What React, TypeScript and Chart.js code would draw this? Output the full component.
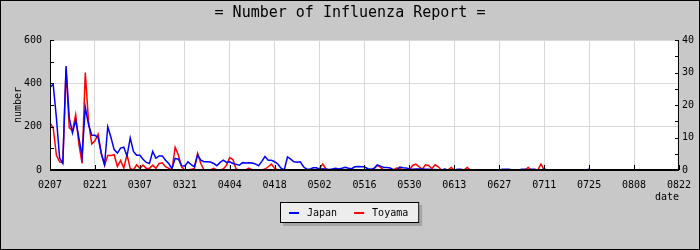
import React, { useEffect, useRef } from "react";
import { Chart, registerables } from "chart.js";

Chart.register(...registerables);

const tickLabels = ["0207", "0221", "0307", "0321", "0404", "0418", "0502", "0516", "0530", "0613", "0627", "0711", "0725", "0808", "0822"];
const seriesNames = ["Japan", "Toyama"];
const seriesColors = ["#0000ff", "#ff0000"];

// daily values starting 02/07 (Japan: left axis)
const japan = [
  382, 395, 240, 55, 30, 480, 240, 171, 230, 148,
  64, 290, 210, 160, 160, 150, 75, 25, 200, 150,
  94, 78, 101, 105, 64, 148, 86, 68, 68, 50,
  35, 30, 86, 55, 65, 65, 45, 30, 6, 54,
  50, 20, 18, 38, 25, 15, 70, 45, 38, 38,
  37, 30, 20, 35, 45, 35, 38, 30, 26, 22,
  34, 32, 33, 32, 28, 20, 40, 62, 45, 45,
  38, 28, 8, 0, 60, 50, 38, 36, 38, 15,
  4, 4, 10, 10, 4, 6, 4, 2, 5, 8,
  5, 8, 12, 8, 6, 15, 16, 15, 15, 6,
  3, 8, 24, 18, 12, 12, 9, 2, 0, 14,
  10, 9, 5, 4, 5, 5, 5, 4, 3, 2,
  2, 1, 0, 4, 0, 0, 0, 4, 4, 0,
  0, 0, 0, 0, 0, 0, 0, 0, 0, 0,
  0, 4, 4, 4, 0, 0, 0, 4, 4, 0,
  4, 4, 0, 0, 4, 0, 0, 0, 0, 0,
  0, 0, 0, 0, 0, 0, 0, 0, 4,
];

// daily values starting 02/07 (Toyama: right axis)
const toyama = [
  14.5, 13, 4.5, 2.5, 2.2, 31, 13, 12, 17, 8,
  2, 30, 15, 8, 9, 11, 5, 1.5, 4.5, 4.5,
  4.7, 1.1, 2.9, 0.6, 4.7, 0.5, 0, 1.6, 0.5, 1.5,
  0.5, 0.5, 1.5, 0.5, 2, 2.2, 1, 0.5, 0, 7,
  4.6, 1, 0, 0, 0.2, 0.5, 5.1, 2, 0, 0,
  0, 0.5, 0, 0, 0.3, 1.5, 3.8, 3.2, 0.3, 0,
  0, 0, 0.6, 0, 0, 0, 0, 0.3, 1, 1.8,
  0.5, 0, 0, 0, 0, 0, 0, 0, 0, 0,
  0, 0, 0, 0, 0.5, 1.8, 0.3, 0, 0, 0,
  0, 0, 0, 0, 0, 0, 0, 0, 0, 0,
  0, 0.4, 1.4, 0.8, 0, 0, 0, 0, 0.6, 0.5,
  0, 0, 0, 1.4, 1.8, 1.0, 0.2, 1.6, 1.4, 0.4,
  1.6, 1.0, 0, 0, 0, 0.8, 0, 0, 0, 0,
  0.8, 0, 0, 0, 0, 0, 0, 0, 0, 0,
  0, 0, 0, 0, 0, 0, 0, 0, 0, 0.8,
  0, 0, 0, 1.8, 0, 0, 0, 0, 0, 0,
  0, 0, 0, 0, 0, 0, 0, 0, 0,
];

const MONO = '"DejaVu Sans Mono", monospace';

const framePlugin = {
  id: "frame",
  beforeDraw(chart: any) {
    const { ctx, width, height, chartArea: a } = chart;
    ctx.save();
    ctx.fillStyle = "#c8c8c8";
    ctx.fillRect(0, 0, width, height);
    ctx.fillStyle = "#ffffff";
    ctx.fillRect(a.left, a.top, a.right - a.left, a.bottom - a.top);
    ctx.strokeStyle = "#000";
    ctx.lineWidth = 1;
    ctx.strokeRect(0.5, 0.5, width - 1, height - 1);
    ctx.restore();
  },
  afterDatasetsDraw(chart: any) {
    const { ctx, chartArea: a, scales } = chart;
    ctx.save();
    ctx.fillStyle = "#000";
    // axes lines
    ctx.fillRect(a.left, a.top, 1, a.bottom - a.top);
    ctx.fillRect(a.right - 1, a.top, 1, a.bottom - a.top);
    ctx.fillRect(a.left, a.bottom - 1, a.right - a.left, 2);
    // inward ticks
    for (let v = 0; v <= 600; v += 100) {
      const py = Math.round(scales.y.getPixelForValue(v));
      ctx.fillRect(a.left, py, 4, 1);
    }
    for (let v = 0; v <= 40; v += 5) {
      const py = Math.round(scales.y1.getPixelForValue(v));
      ctx.fillRect(a.right - 4, py, 4, 1);
    }
    tickLabels.forEach((_, i) => {
      const px = Math.round(scales.x.getPixelForValue(i * 14));
      ctx.fillRect(px, a.bottom - 5, 1, 5);
    });
    ctx.restore();
  },
  afterDraw(chart: any) {
    const { ctx, width } = chart;
    ctx.save();
    ctx.font = "10px " + MONO;
    const markW = 10, gap = 8, itemGap = 17, padL = 9, padR = 11;
    const widths = seriesNames.map((n) => ctx.measureText(n).width);
    let total = padL + padR;
    widths.forEach((w, i) => {
      total += markW + gap + w + (i < widths.length - 1 ? itemGap : 0);
    });
    const bx = Math.round(width / 2 - total / 2);
    const by = 202, bh = 21;
    ctx.fillStyle = "#a6a6a6";
    ctx.fillRect(bx + 3, by + 3, total, bh);
    ctx.fillStyle = "#ededed";
    ctx.fillRect(bx, by, total, bh);
    ctx.strokeStyle = "#000";
    ctx.lineWidth = 1;
    ctx.strokeRect(bx + 0.5, by + 0.5, total - 1, bh - 1);
    let cx = bx + padL;
    const cy = by + 11;
    seriesNames.forEach((n, i) => {
      ctx.fillStyle = seriesColors[i];
      ctx.fillRect(cx, cy - 1, markW, 2);
      cx += markW + gap;
      ctx.fillStyle = "#000";
      ctx.textBaseline = "middle";
      ctx.textAlign = "left";
      ctx.fillText(n, cx, cy);
      cx += widths[i] + itemGap;
    });
    ctx.restore();
  },
};

export default function App() {
  const ref = useRef<HTMLCanvasElement | null>(null);
  useEffect(() => {
    if (!ref.current) return;
    const font = { family: MONO, size: 10 };
    const chart = new Chart(ref.current, {
      type: "line",
      data: {
        datasets: [
          {
            label: seriesNames[0],
            data: japan.map((v, i) => ({ x: i, y: v })),
            borderColor: seriesColors[0],
            backgroundColor: seriesColors[0],
            borderWidth: 1.5,
            pointRadius: 0,
            tension: 0,
            yAxisID: "y",
          },
          {
            label: seriesNames[1],
            data: toyama.map((v, i) => ({ x: i, y: v })),
            borderColor: seriesColors[1],
            backgroundColor: seriesColors[1],
            borderWidth: 1.5,
            pointRadius: 0,
            tension: 0,
            yAxisID: "y1",
          },
        ],
      },
      options: {
        animation: false,
        responsive: false,
        devicePixelRatio: 1,
        layout: { padding: { left: 0, right: 0, top: 0, bottom: 47 } },
        plugins: {
          legend: { display: false },
          tooltip: { enabled: false },
          title: {
            display: true,
            text: "= Number of Influenza Report =",
            color: "#000",
            font: { family: MONO, size: 15, weight: "normal" },
            padding: { top: 4, bottom: 18 },
          },
        },
        scales: {
          x: {
            type: "linear",
            min: 0,
            max: 196,
            ticks: {
              stepSize: 14,
              autoSkip: false,
              maxRotation: 0,
              color: "#000",
              font,
              padding: 9,
              callback: (v: any) => tickLabels[Math.round(Number(v) / 14)] ?? "",
            },
            grid: { color: "#d9d9d9", drawTicks: false },
            border: { display: false },
            title: { display: true, text: "date", align: "end", color: "#000", font, padding: { top: 0, bottom: 0 } },
            afterFit: (s: any) => { s.height = 33; },
          },
          y: {
            position: "left",
            min: 0,
            max: 600,
            ticks: { stepSize: 200, color: "#000", font, padding: 8 },
            grid: { color: "#d9d9d9", drawTicks: false },
            border: { display: false },
            title: { display: true, text: "number", color: "#000", font, padding: { top: 12, bottom: 0 } },
            afterFit: (s: any) => { s.width = 50; },
          },
          y1: {
            position: "right",
            min: 0,
            max: 40,
            ticks: { stepSize: 10, color: "#000", font, padding: 3 },
            grid: { display: false, drawTicks: false },
            border: { display: false },
            afterFit: (s: any) => { s.width = 20; },
          },
        },
      } as any,
      plugins: [framePlugin],
    });
    return () => chart.destroy();
  }, []);
  return (
    <div style={{ position: "absolute", left: 0, top: 0, width: 700, height: 250 }}>
      <canvas ref={ref} width={700} height={250} />
    </div>
  );
}
